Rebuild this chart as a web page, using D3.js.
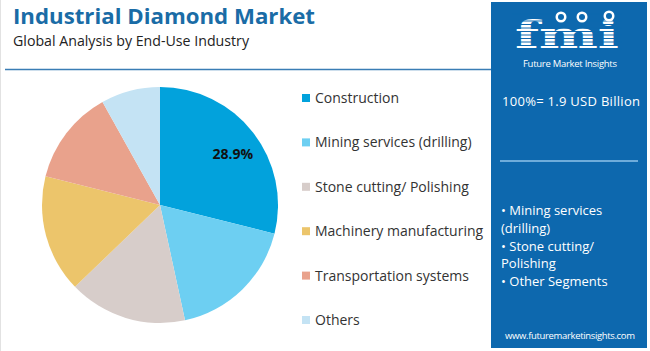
<!DOCTYPE html>
<html>
<head>
<meta charset="utf-8">
<script src="https://cdn.jsdelivr.net/npm/d3@7"></script>
<style>
  body { margin: 0; background: #fff; }
  text { font-family: "Open Sans", "Noto Sans", sans-serif; }
</style>
</head>
<body>
<svg id="chart" width="650" height="351"></svg>
<script>
const categories = ["Construction", "Mining services (drilling)", "Stone cutting/ Polishing",
    "Machinery manufacturing", "Transportation systems", "Others"];
const shares = [28.9, 17.7, 16.2, 16.1, 13.0, 8.1];
const colors = ["#02a2dc", "#6dcff2", "#d7cdca", "#ecc56b", "#e9a28c", "#c4e3f4"];
const shownLabels = ["28.9%", "", "", "", "", ""];
const panelBullets = ["• Mining services", "(drilling)", "• Stone cutting/", "Polishing", "• Other Segments"];

const panelBlue = "#0d68ae";
const svg = d3.select("#chart");

svg.append("line")
    .attr("x1", 0.5).attr("x2", 0.5)
    .attr("y1", 0).attr("y2", 351)
    .attr("stroke", "#e2e2e2");

// header
svg.append("text")
    .attr("x", 13).attr("y", 24)
    .attr("fill", "#1a6ca6")
    .style("font-size", "21px").style("font-weight", 700)
    .attr("textLength", 302)
    .attr("lengthAdjust", "spacingAndGlyphs")
    .text("Industrial Diamond Market");

svg.append("text")
    .attr("x", 13).attr("y", 46)
    .attr("fill", "#222")
    .style("font-size", "14.5px")
    .attr("textLength", 236)
    .attr("lengthAdjust", "spacingAndGlyphs")
    .text("Global Analysis by End-Use Industry");

svg.append("line")
    .attr("x1", 5).attr("x2", 491)
    .attr("y1", 69.5).attr("y2", 69.5)
    .attr("stroke", "#3a7db5").attr("stroke-width", 1.5);

// pie
const cx = 160, cy = 205, r = 118;
const pie = d3.pie().sort(null).value(d => d);
const arc = d3.arc().innerRadius(0).outerRadius(r);
const arcs = pie(shares);

const g = svg.append("g").attr("transform", `translate(${cx},${cy})`);
g.selectAll("path")
    .data(arcs)
    .enter()
    .append("path")
    .attr("d", arc)
    .attr("fill", (d, i) => colors[i]);

const labelArc = d3.arc().innerRadius(r * 0.75).outerRadius(r * 0.75);
g.selectAll(".pct")
    .data(arcs)
    .enter()
    .append("text")
    .attr("class", "pct")
    .attr("transform", d => {
        const c = labelArc.centroid(d);
        return `translate(${c[0] + 3},${c[1] + 4})`;
    })
    .attr("text-anchor", "middle")
    .attr("dy", "0.35em")
    .style("font-size", "14px").style("font-weight", 700)
    .attr("fill", "#111")
    .text((d, i) => shownLabels[i]);

// legend
const legendY = d3.scalePoint().domain(categories).range([98, 320]);
const legend = svg.append("g");
legend.selectAll("rect")
    .data(categories)
    .enter()
    .append("rect")
    .attr("x", 302)
    .attr("y", d => legendY(d) - 4)
    .attr("width", 8).attr("height", 8)
    .attr("fill", (d, i) => colors[i]);

legend.selectAll("text")
    .data(categories)
    .enter()
    .append("text")
    .attr("x", 315)
    .attr("y", d => legendY(d))
    .attr("dy", "0.35em")
    .style("font-size", "14px")
    .attr("fill", "#333")
    .text(d => d);

// right panel
svg.append("rect")
    .attr("x", 491).attr("y", 2)
    .attr("width", 156).attr("height", 346)
    .attr("fill", panelBlue);

const logo = svg.append("g");
logo.append("text")
    .attr("x", 567).attr("y", 48)
    .attr("text-anchor", "middle")
    .attr("fill", "#fff")
    .style("font-family", "'DejaVu Serif', serif")
    .style("font-size", "38px").style("font-weight", 700)
    .attr("textLength", 104)
    .attr("lengthAdjust", "spacingAndGlyphs")
    .text("fmi");
// stripes over the letters
d3.range(14, 52, 3.5).forEach(y => {
    logo.append("line")
        .attr("x1", 512).attr("x2", 622)
        .attr("y1", y).attr("y2", y)
        .attr("stroke", panelBlue).attr("stroke-width", 1);
});
[[561, 17], [582, 17], [609, 16]].forEach(([x, y]) => {
    logo.append("circle").attr("cx", x).attr("cy", y).attr("r", 5.5).attr("fill", "#fff");
    logo.append("circle").attr("cx", x).attr("cy", y).attr("r", 3).attr("fill", panelBlue);
});
logo.append("text")
    .attr("x", 570).attr("y", 67)
    .attr("text-anchor", "middle")
    .attr("fill", "#fff")
    .style("font-size", "9.5px")
    .attr("textLength", 94)
    .text("Future Market Insights");

svg.append("text")
    .attr("x", 502).attr("y", 106)
    .attr("fill", "#fff")
    .style("font-size", "13px")
    .attr("textLength", 138)
    .text("100%= 1.9 USD Billion");

svg.append("line")
    .attr("x1", 500).attr("x2", 638)
    .attr("y1", 161).attr("y2", 161)
    .attr("stroke", "#8fc3ea").attr("stroke-width", 1.5);

svg.selectAll(".bullet")
    .data(panelBullets)
    .enter()
    .append("text")
    .attr("class", "bullet")
    .attr("x", 501)
    .attr("y", (d, i) => 215 + i * 17.8)
    .attr("fill", "#fff")
    .style("font-size", "13px")
    .text(d => d);

svg.append("text")
    .attr("x", 570).attr("y", 339)
    .attr("text-anchor", "middle")
    .attr("fill", "#fff")
    .style("font-size", "9.5px")
    .attr("textLength", 130)
    .text("www.futuremarketinsights.com");
</script>
</body>
</html>
